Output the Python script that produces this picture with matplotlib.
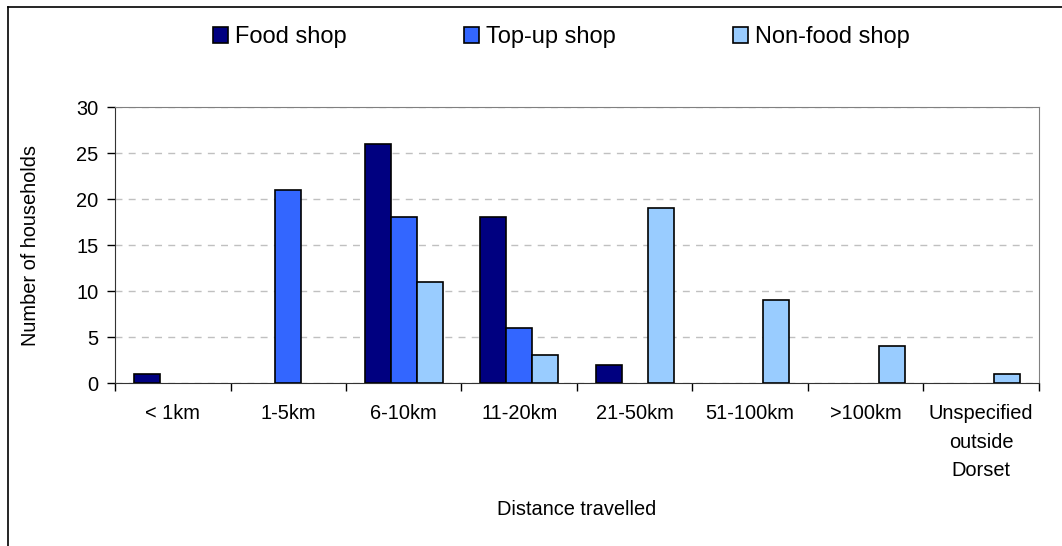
import numpy as np
import matplotlib.pyplot as plt
from matplotlib.lines import Line2D

# dane
kategorie = ['< 1km', '1-5km', '6-10km', '11-20km', '21-50km', '51-100km', '>100km',
             'Unspecified\noutside\nDorset']
food_shop = [1, 0, 26, 18, 2, 0, 0, 0]
topup_shop = [0, 21, 18, 6, 0, 0, 0, 0]
nonfood_shop = [0, 0, 11, 3, 19, 9, 4, 1]
serie = ['Food shop', 'Top-up shop', 'Non-food shop']
kolory = ['#000080', '#3366FF', '#99CCFF']

plt.rcParams['font.family'] = ['Liberation Sans', 'DejaVu Sans']

fig = plt.figure(figsize=(10.62, 5.46), dpi=100)
ax = fig.add_axes([0.1083, 0.2985, 0.8700, 0.5055])

x = np.arange(len(kategorie))
w = 0.225
for i, (vals, lab, kol) in enumerate(zip([food_shop, topup_shop, nonfood_shop], serie, kolory)):
    # zerowe slupki bez obrysu
    lw = [1.2 if v > 0 else 0 for v in vals]
    ax.bar(x + (i - 1) * w, vals, width=w, color=kol, edgecolor='black', linewidth=lw,
           label=lab, zorder=3)

ax.set_xlim(-0.5, len(kategorie) - 0.5)
ax.set_ylim(0, 30)
ax.set_yticks(range(0, 31, 5))
ax.set_xticks(x)
ax.set_xticklabels(kategorie, fontsize=14.4, linespacing=1.65)
ax.set_xticks(np.arange(-0.5, len(kategorie), 1), minor=True)
ax.tick_params(axis='x', which='major', length=0, pad=15)
ax.tick_params(axis='x', which='minor', length=6, width=1, direction='out')
ax.tick_params(axis='y', labelsize=14.4, length=6, width=1, direction='out', pad=6)

ax.yaxis.grid(True, linestyle=(0, (5, 4.5)), color='#C0C0C0', linewidth=1, zorder=0)
for s in ['top', 'right']:
    ax.spines[s].set_color('#808080')
for s in ['left', 'bottom']:
    ax.spines[s].set_color('#333333')

ax.set_ylabel('Number of households', fontsize=14.4)
ax.yaxis.set_label_coords(-0.0814, 0.5)
ax.set_xlabel('Distance travelled', fontsize=14.4)
ax.xaxis.set_label_coords(0.5, -0.4245)

leg = fig.legend(loc='center', bbox_to_anchor=(0.5287, 0.932), ncol=3, frameon=False,
                 fontsize=17, handlelength=0.64, handleheight=0.64, handletextpad=0.3,
                 columnspacing=4.95)
for h in leg.legend_handles:
    h.set_linewidth(1.2)
    h.set_edgecolor('black')

# ramka wykresu
fig.add_artist(Line2D([8 / 1062, 8 / 1062], [0, 1 - 7 / 546], color='black', linewidth=1.2))
fig.add_artist(Line2D([8 / 1062, 1], [1 - 7 / 546, 1 - 7 / 546], color='black', linewidth=1.2))

fig.savefig('out.png', dpi=100)
